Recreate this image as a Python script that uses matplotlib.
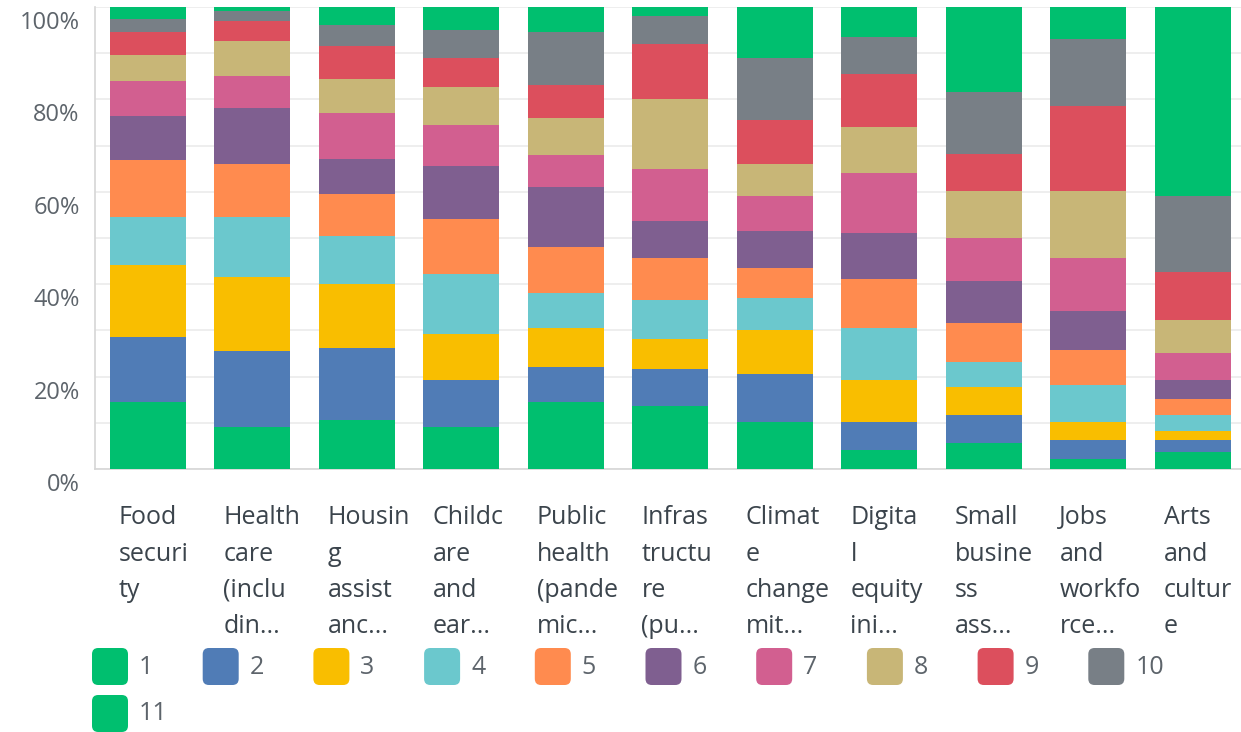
import matplotlib
matplotlib.use("Agg")
import matplotlib.pyplot as plt
from matplotlib.patches import FancyBboxPatch
from matplotlib.transforms import ScaledTranslation
import numpy as np

plt.rcParams['font.family'] = ['Open Sans', 'DejaVu Sans']

# categories (full names) and the wrapped/truncated labels shown on the axis
categories = ["Food security", "Health care", "Housing assistance", "Childcare and early learning",
              "Public health (pandemic)", "Infrastructure (public)", "Climate change mitigation",
              "Digital equity initiatives", "Small business assistance", "Jobs and workforce",
              "Arts and culture"]
tick_labels = ["Food\nsecuri\nty", "Health\ncare\n(inclu\ndin...", "Housin\ng\nassist\nanc...",
               "Childc\nare\nand\near...", "Public\nhealth\n(pande\nmic...", "Infras\ntructu\nre\n(pu...",
               "Climat\ne\nchange\nmit...", "Digita\nl\nequity\nini...", "Small\nbusine\nss\nass...",
               "Jobs\nand\nworkfo\nrce...", "Arts\nand\ncultur\ne"]

# share of respondents (%) giving each rank, per category
rank_1 = [14.6, 9.1, 10.6, 9.1, 14.6, 13.7, 10.2, 4.2, 5.6, 2.2, 3.7]
rank_2 = [14.0, 16.5, 15.5, 10.1, 7.5, 7.9, 10.4, 6.0, 6.1, 4.0, 2.5]
rank_3 = [15.5, 16.0, 14.0, 10.0, 8.5, 6.5, 9.5, 9.0, 6.0, 4.0, 2.0]
rank_4 = [10.4, 12.9, 10.4, 12.9, 7.5, 8.5, 7.0, 11.4, 5.4, 8.0, 3.5]
rank_5 = [12.5, 11.6, 9.1, 12.0, 10.0, 9.0, 6.5, 10.5, 8.5, 7.5, 3.5]
rank_6 = [9.5, 12.0, 7.4, 11.4, 12.9, 8.0, 8.0, 9.9, 9.0, 8.5, 4.0]
rank_7 = [7.6, 6.9, 10.0, 9.0, 7.0, 11.4, 7.4, 13.0, 9.5, 11.4, 6.0]
rank_8 = [5.5, 7.6, 7.5, 8.1, 8.0, 15.0, 7.0, 10.0, 10.0, 14.5, 7.0]
rank_9 = [5.0, 4.4, 7.1, 6.4, 7.1, 12.0, 9.6, 11.6, 8.0, 18.5, 10.4]
rank_10 = [3.0, 2.1, 4.4, 6.0, 11.4, 6.1, 13.4, 7.9, 13.4, 14.4, 16.4]
rank_11 = [2.5, 0.9, 4.0, 5.0, 5.5, 1.9, 11.0, 6.5, 18.5, 7.0, 41.0]

ranks = [rank_1, rank_2, rank_3, rank_4, rank_5, rank_6, rank_7, rank_8, rank_9, rank_10, rank_11]
rank_names = [str(i + 1) for i in range(len(ranks))]
colors = ["#00bf6f", "#507cb6", "#f9be00", "#6bc8cd", "#ff8b4f", "#7f5f90",
          "#d25f90", "#c8b677", "#dc4f5d", "#787f86", "#00bf6f"]

data = np.array(ranks)
data = data / data.sum(axis=0) * 100  # 100% stacked

fig = plt.figure(figsize=(12.41, 7.32), dpi=100, facecolor='white')
ax = fig.add_axes([95 / 1241, 263 / 732, 1 - 95 / 1241, 462 / 732])

x = np.arange(len(categories))
bottom = np.zeros(len(categories))
for i, row in enumerate(data):
    ax.bar(x, row, bottom=bottom, width=0.727, color=colors[i], linewidth=0, zorder=3)
    bottom += row

ax.set_xlim(-0.507, 10.46)
ax.set_ylim(0, 100)

# grid every 10%, labels every 20%
ax.set_yticks(np.arange(0, 101, 20))
ax.set_yticks(np.arange(0, 101, 10), minor=True)
ax.set_yticklabels([f"{v}%" for v in range(0, 101, 20)], fontsize=17, color="#5d646b")
ax.grid(axis='y', which='both', color='#ebebeb', linewidth=1.2, zorder=0)
ax.tick_params(axis='y', which='both', length=0, pad=11)
for lab in ax.get_yticklabels():
    lab.set_transform(lab.get_transform() + ScaledTranslation(0, -0.13, fig.dpi_scale_trans))

ax.set_xticks(x)
ax.set_xticklabels(tick_labels, fontsize=18, color="#3b444c", ha='left', va='top', linespacing=1.6)
ax.tick_params(axis='x', length=0, pad=26)
for lab in ax.get_xticklabels():
    lab.set_transform(lab.get_transform() + ScaledTranslation(-0.29, 0, fig.dpi_scale_trans))

for s in ['top', 'right']:
    ax.spines[s].set_visible(False)
for s in ['left', 'bottom']:
    ax.spines[s].set_color('#d6d6d6')
    ax.spines[s].set_linewidth(1.2)

# legend: rounded colour squares, 10 per row
W, H = 1241.0, 732.0
for i, name in enumerate(rank_names):
    col, row = i % 10, i // 10
    x0 = 92 + col * 110.7
    y0 = 648 + row * 47
    box = FancyBboxPatch((x0 / W, 1 - (y0 + 37) / H), 36 / W, 37 / H,
                         boxstyle="round,pad=0,rounding_size=0.005",
                         transform=fig.transFigure, facecolor=colors[i], edgecolor='none',
                         mutation_aspect=W / H)
    fig.patches.append(box)
    fig.text((x0 + 47) / W, 1 - (y0 + 19) / H, name, fontsize=18, color="#5d646b",
             ha='left', va='center')

fig.savefig("out.png", dpi=100, facecolor='white')
